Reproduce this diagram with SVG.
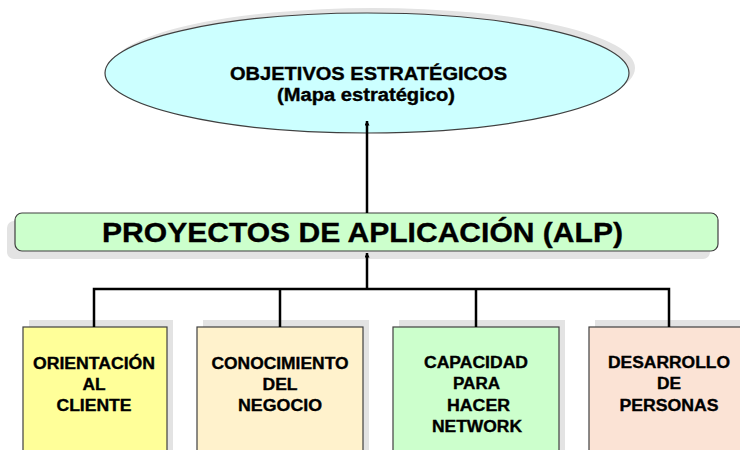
<svg xmlns="http://www.w3.org/2000/svg" width="740" height="450" viewBox="0 0 740 450">
<defs>
<style>
.shadow{fill:#e3e3e3;stroke:none}
.node{stroke:#404040;stroke-width:1.2}
.t{font-family:"Liberation Sans",Arial,sans-serif;font-weight:bold;fill:#000;text-anchor:middle;stroke:#000;stroke-width:0.35}
.bt{font-size:16px}
.conn{fill:none;stroke:#000;stroke-width:2.5}
</style>
<marker id="arr" viewBox="0 0 10 10" refX="9" refY="5" markerWidth="5" markerHeight="5" orient="auto" markerUnits="userSpaceOnUse">
<path d="M0,0 L10,5 L0,10 z" fill="#000"/>
</marker>
</defs>
<rect width="740" height="450" fill="#fff"/>
<g id="objetivos">
<ellipse class="shadow" cx="373" cy="68" rx="262" ry="60"/>
<ellipse class="node" cx="367" cy="73" rx="262" ry="60" fill="#ccffff"/>
<text class="t" x="368.5" y="80" font-size="17.5" textLength="277" lengthAdjust="spacingAndGlyphs">OBJETIVOS ESTRATÉGICOS</text>
<text class="t" x="366" y="101" font-size="17.5" textLength="178" lengthAdjust="spacingAndGlyphs">(Mapa estratégico)</text>
</g>
<g id="proyectos">
<rect class="shadow" x="7" y="221" width="703" height="38" rx="7"/>
<rect class="node" x="15" y="213" width="703" height="38" rx="7" fill="#ccffcc"/>
<text class="t" x="362.5" y="242" font-size="28.5" textLength="521" lengthAdjust="spacingAndGlyphs">PROYECTOS DE APLICACIÓN (ALP)</text>
</g>
<g id="orientacion">
<rect class="shadow" x="29" y="320" width="144" height="140"/>
<rect class="node" x="23" y="327" width="144" height="140" fill="#ffff99"/>
<text class="t bt" x="94" y="369" textLength="122" lengthAdjust="spacingAndGlyphs">ORIENTACIÓN</text>
<text class="t bt" x="94" y="390" textLength="23" lengthAdjust="spacingAndGlyphs">AL</text>
<text class="t bt" x="94" y="411" textLength="75" lengthAdjust="spacingAndGlyphs">CLIENTE</text>
</g>
<g id="conocimiento">
<rect class="shadow" x="203" y="320" width="166" height="140"/>
<rect class="node" x="197" y="327" width="166" height="140" fill="#fff2cc"/>
<text class="t bt" x="280" y="369" textLength="137" lengthAdjust="spacingAndGlyphs">CONOCIMIENTO</text>
<text class="t bt" x="280" y="390" textLength="35" lengthAdjust="spacingAndGlyphs">DEL</text>
<text class="t bt" x="280" y="411" textLength="84" lengthAdjust="spacingAndGlyphs">NEGOCIO</text>
</g>
<g id="capacidad">
<rect class="shadow" x="399" y="320" width="166" height="140"/>
<rect class="node" x="393" y="327" width="166" height="140" fill="#ccffcc"/>
<text class="t bt" x="476" y="368" textLength="104" lengthAdjust="spacingAndGlyphs">CAPACIDAD</text>
<text class="t bt" x="476.5" y="389" textLength="47" lengthAdjust="spacingAndGlyphs">PARA</text>
<text class="t bt" x="478.5" y="411" textLength="63" lengthAdjust="spacingAndGlyphs">HACER</text>
<text class="t bt" x="477" y="432" textLength="90" lengthAdjust="spacingAndGlyphs">NETWORK</text>
</g>
<g id="desarrollo">
<rect class="shadow" x="595" y="320" width="166" height="140"/>
<rect class="node" x="589" y="327" width="166" height="140" fill="#fbe3d5"/>
<text class="t bt" x="669" y="368" textLength="122" lengthAdjust="spacingAndGlyphs">DESARROLLO</text>
<text class="t bt" x="669" y="389" textLength="24" lengthAdjust="spacingAndGlyphs">DE</text>
<text class="t bt" x="669" y="411" textLength="99" lengthAdjust="spacingAndGlyphs">PERSONAS</text>
</g>
<g id="connectors">
<path class="conn" d="M367,213 L367,121" marker-end="url(#arr)"/>
<path class="conn" d="M367,289 L367,253" marker-end="url(#arr)"/>
<path class="conn" d="M94,327 L94,289 L669,289 L669,327"/>
<path class="conn" d="M280,289 L280,327"/>
<path class="conn" d="M476,289 L476,327"/>
</g>
</svg>
